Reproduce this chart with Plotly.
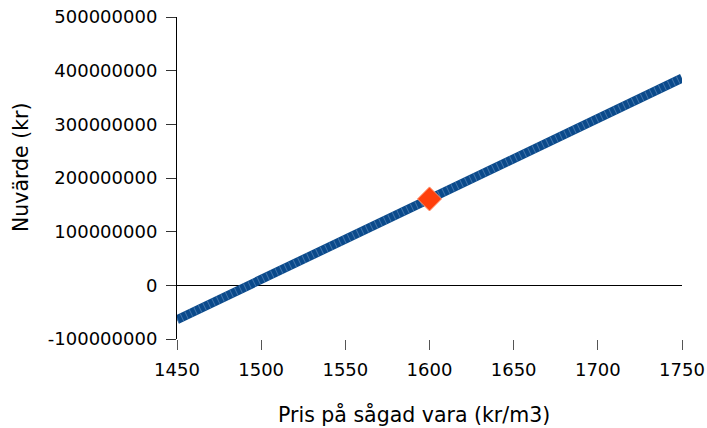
import plotly.graph_objects as go

# Net present value as a function of the price of sawn timber
price = [1450, 1500, 1550, 1600, 1650, 1700, 1750]
npv = [-64e6, 11e6, 86e6, 161e6, 236e6, 311e6, 386e6]

# Base case
base_price = [1600]
base_npv = [161e6]

y_ticks = [-100e6, 0, 100e6, 200e6, 300e6, 400e6, 500e6]
y_tick_text = ["-100000000", "0", "100000000", "200000000",
               "300000000", "400000000", "500000000"]
x_ticks = [1450, 1500, 1550, 1600, 1650, 1700, 1750]

FONT = "DejaVu Sans, Arial, sans-serif"

fig = go.Figure()

fig.add_trace(go.Scatter(
    x=price, y=npv, mode="lines",
    line=dict(color="#0B4A8B", width=9),
    hoverinfo="skip", showlegend=False,
))
# light hatching on top of the thick line
fig.add_trace(go.Scatter(
    x=price, y=npv, mode="lines",
    line=dict(color="rgba(120,160,205,0.5)", width=8, dash="1px,4px"),
    hoverinfo="skip", showlegend=False,
))
fig.add_trace(go.Scatter(
    x=base_price, y=base_npv, mode="markers",
    marker=dict(symbol="diamond", size=18.5, color="#FF3F0C",
                line=dict(color="#FF9470", width=1)),
    showlegend=False,
))

fig.update_layout(
    width=707, height=428,
    margin=dict(l=177, r=25, t=17, b=89),
    paper_bgcolor="white", plot_bgcolor="white",
    font=dict(family=FONT, size=18, color="black"),
    xaxis=dict(
        range=[1450, 1750], tickvals=x_ticks, automargin=False,
        showgrid=False, zeroline=False, showline=False,
        ticks="outside", ticklen=10, tickcolor="#555", tickwidth=1,
        tickfont=dict(size=18), ticklabelstandoff=4,
    ),
    yaxis=dict(
        range=[-100e6, 500e6], tickvals=y_ticks, ticktext=y_tick_text,
        automargin=False,
        showgrid=False, zeroline=True, zerolinecolor="black", zerolinewidth=1,
        showline=True, linecolor="black", linewidth=1,
        ticks="outside", ticklen=10, tickcolor="#333", tickwidth=1,
        tickfont=dict(size=18), ticklabelstandoff=5,
    ),
    annotations=[
        dict(text="Pris på sågad vara (kr/m3)", xref="paper", yref="paper",
             x=(414 - 177) / 505, y=-(414 - 339) / 322,
             xanchor="center", yanchor="middle", showarrow=False,
             font=dict(size=20.5)),
        dict(text="Nuvärde (kr)", xref="paper", yref="paper",
             x=-(177 - 21) / 505, y=(339 - 167) / 322, textangle=-90,
             xanchor="center", yanchor="middle", showarrow=False,
             font=dict(size=20.5)),
    ],
)

fig.write_html("out.html")
